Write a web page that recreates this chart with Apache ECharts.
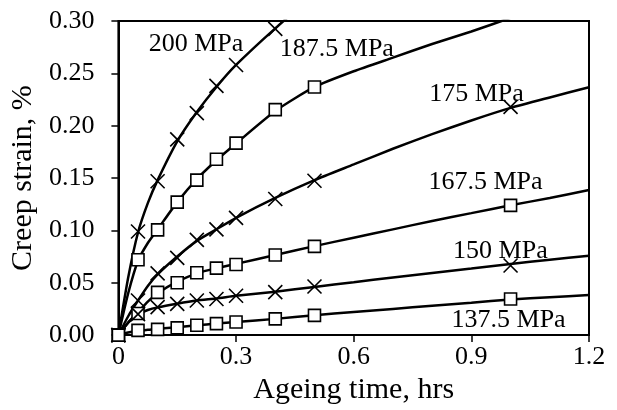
<!DOCTYPE html>
<html>
<head>
<meta charset="utf-8">
<script src="https://cdn.jsdelivr.net/npm/echarts@6/dist/echarts.min.js"></script>
<style>html,body{margin:0;padding:0;background:#fff}#c{width:617px;height:410px}</style>
</head>
<body>
<div id="c"></div>
<script>
// Marker (measured) data
const markerTimes = [0, 0.05, 0.1, 0.15, 0.2, 0.25, 0.3, 0.4, 0.5, 1.0];
const m200   = [0, 0.099, 0.147, 0.187, 0.212, 0.238, 0.258, 0.2925, null, null];
const m187_5 = [0, 0.072, 0.1005, 0.127, 0.148, 0.168, 0.1834, 0.2154, 0.237, null];
const m175   = [0, 0.033, 0.059, 0.0737, 0.091, 0.101, 0.112, 0.130, 0.1474, 0.218];
const m167_5 = [0, 0.0207, 0.0408, 0.050, 0.0596, 0.064, 0.0674, 0.0765, 0.0847, 0.1239];
const m150   = [0, 0.020, 0.0267, 0.0298, 0.033, 0.0345, 0.0376, 0.041, 0.0464, 0.0665];
const m137_5 = [0, 0.0045, 0.0055, 0.0069, 0.0094, 0.011, 0.0125, 0.0155, 0.0188, 0.0345];

// Fitted curve data
const curveTimes = [0, 0.025, 0.05, 0.075, 0.1, 0.15, 0.2, 0.25, 0.3, 0.4, 0.5, 0.6, 0.7, 0.8, 0.9, 1.0, 1.1, 1.2];
const c200   = [0, 0.055, 0.098, 0.126, 0.148, 0.185, 0.213, 0.237, 0.258, 0.293, 0.325, 0.355, null, null, null, null, null, null];
const c187_5 = [0, 0.040, 0.071, 0.088, 0.101, 0.127, 0.149, 0.167, 0.183, 0.214, 0.237, 0.252, 0.265, 0.278, 0.290, 0.303, 0.316, 0.329];
const c175   = [0, 0.018, 0.033, 0.047, 0.058, 0.075, 0.090, 0.101, 0.112, 0.131, 0.148, 0.163, 0.178, 0.192, 0.205, 0.217, 0.227, 0.2367];
const c167_5 = [0, 0.012, 0.022, 0.032, 0.040, 0.051, 0.059, 0.064, 0.068, 0.0765, 0.085, 0.093, 0.101, 0.109, 0.1165, 0.124, 0.131, 0.1386];
const c150   = [0, 0.012, 0.020, 0.024, 0.0265, 0.030, 0.033, 0.035, 0.0375, 0.0415, 0.046, 0.0505, 0.055, 0.0593, 0.0636, 0.068, 0.072, 0.0759];
const c137_5 = [0, 0.0025, 0.0042, 0.005, 0.006, 0.0075, 0.0093, 0.011, 0.0125, 0.0155, 0.019, 0.022, 0.025, 0.028, 0.031, 0.034, 0.0362, 0.0383];

// Annotation labels
const labelTexts = ['200 MPa', '187.5 MPa', '175 MPa', '167.5 MPa', '150 MPa', '137.5 MPa'];
const labelX = [0.198, 0.557, 0.913, 0.936, 0.974, 0.995];
const labelY = [0.2775, 0.273, 0.2305, 0.1458, 0.080, 0.0141];

const FONT = "'Liberation Serif','Times New Roman',serif";
const crossPath = 'path://M0,0L10,10M10,0L0,10';

function pairs(xs, ys) {
  const out = [];
  for (let i = 0; i < xs.length; i++) if (ys[i] !== null) out.push([xs[i], ys[i]]);
  return out;
}

const curves = [c200, c187_5, c175, c167_5, c150, c137_5];
const markers = [m200, m187_5, m175, m167_5, m150, m137_5];
const symbols = [crossPath, 'rect', crossPath, 'rect', crossPath, 'rect'];

const series = [];
curves.forEach(function (c) {
  series.push({
    type: 'line', data: pairs(curveTimes, c), smooth: 0.2,
    showSymbol: false, symbol: 'none', clip: true,
    lineStyle: { color: '#000', width: 2.5 }, z: 2, silent: true
  });
});
markers.forEach(function (m, i) {
  const isRect = symbols[i] === 'rect';
  series.push({
    type: 'scatter', data: pairs(markerTimes, m), symbol: symbols[i],
    symbolSize: isRect ? 12 : 14, clip: true,
    itemStyle: { color: isRect ? '#fff' : 'rgba(0,0,0,0)', borderColor: '#000', borderWidth: 1.6, opacity: 1 },
    z: 3, silent: true
  });
});
series.push({
  type: 'scatter', symbolSize: 0, z: 4, silent: true,
  itemStyle: { opacity: 1 },
  data: labelTexts.map(function (t, i) { return { value: [labelX[i], labelY[i]], name: t }; }),
  label: { show: true, position: 'inside', formatter: '{b}', color: '#000', opacity: 1,
    textBorderWidth: 0, fontFamily: FONT, fontSize: 26 }
});

const chart = echarts.init(document.getElementById('c'), null, { renderer: 'canvas' });
chart.setOption({
  animation: false,
  backgroundColor: '#fff',
  grid: { left: 117, right: 28, top: 21, bottom: 70, show: true, borderColor: '#000', borderWidth: 2 },
  xAxis: {
    type: 'value', min: 0, max: 1.2, interval: 0.3,
    name: 'Ageing time, hrs', nameLocation: 'middle', nameGap: 32,
    nameTextStyle: { fontFamily: FONT, fontSize: 30, color: '#000' },
    axisLine: { lineStyle: { color: '#000', width: 2 } },
    axisTick: { show: true, length: 7, lineStyle: { color: '#000', width: 1.5 } },
    axisLabel: { fontFamily: FONT, fontSize: 26, color: '#000', margin: 9,
      formatter: function (v) { return v === 0 ? '0' : v.toFixed(1); } },
    splitLine: { show: false }
  },
  yAxis: {
    type: 'value', min: 0, max: 0.3, interval: 0.05,
    name: 'Creep strain, %', nameLocation: 'middle', nameGap: 73,
    nameTextStyle: { fontFamily: FONT, fontSize: 30, color: '#000' },
    axisLine: { show: true, lineStyle: { color: '#000', width: 2 } },
    axisTick: { show: true, length: 7, lineStyle: { color: '#000', width: 1.5 } },
    axisLabel: { fontFamily: FONT, fontSize: 26, color: '#000', margin: 24,
      formatter: function (v) { return v.toFixed(2); } },
    splitLine: { show: false }
  },
  series: series
});
</script>
</body>
</html>
